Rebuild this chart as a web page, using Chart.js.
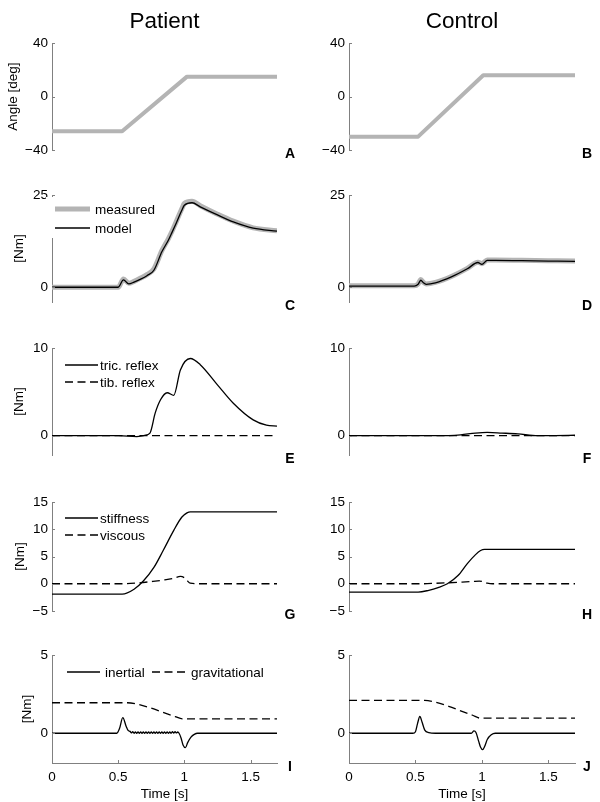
<!DOCTYPE html>
<html>
<head>
<meta charset="utf-8">
<script src="https://cdn.jsdelivr.net/npm/chart.js@4.4.1/dist/chart.umd.min.js"></script>
<style>
  body { margin: 0; background: #fff; }
  #wrap { position: relative; width: 600px; height: 802px; }
  #wrap canvas { position: absolute; }
</style>
</head>
<body>
<div id="wrap"></div>
<script>
// --- data (time in s) ---
var timeTicks = [0, 0.5, 1, 1.5];
var colTitles = ["Patient", "Control"];

// A / B : angle [deg]
var tAngleP = [0, 0.53, 1.02, 1.7];
var angleP = [-26, -26, 15, 15];
var tAngleC = [0, 0.52, 1.01, 1.7];
var angleC = [-30, -30, 16, 16];

// C / D : total torque [Nm]
var tTorqueP = [0, 0.5, 0.54, 0.58, 0.62, 0.67, 0.72, 0.77, 0.83, 0.88, 0.906, 0.94, 0.98, 1.0, 1.058, 1.12, 1.25, 1.37, 1.52, 1.7];
var measuredP = [0, 0, 2.2, 1.1, 1.6, 2.5, 3.5, 5.0, 9.9, 13.2, 15.1, 17.9, 21.2, 22.7, 23.3, 22.1, 19.8, 17.9, 16.1, 15.3];
var modelP = [0, 0, 2.0, 0.9, 1.4, 2.2, 3.2, 4.6, 9.6, 12.8, 14.8, 17.5, 20.8, 22.2, 22.9, 21.8, 19.6, 17.7, 16.0, 15.2];
var tTorqueC = [0, 0.49, 0.52, 0.54, 0.56, 0.58, 0.65, 0.77, 0.89, 0.97, 1.0, 1.04, 1.1, 1.3, 1.5, 1.7];
var measuredC = [0.4, 0.4, 0.9, 2.1, 1.3, 0.9, 1.3, 2.9, 5.1, 6.8, 6.4, 7.4, 7.4, 7.3, 7.2, 7.1];
var modelC = [0.3, 0.3, 0.8, 1.9, 1.2, 0.8, 1.2, 2.8, 5.0, 6.7, 6.2, 7.3, 7.3, 7.2, 7.1, 7.0];

// E / F : reflex torque [Nm]
var tReflexP = [0, 0.3, 0.5, 0.64, 0.7, 0.74, 0.78, 0.82, 0.87, 0.92, 0.97, 1.045, 1.12, 1.25, 1.37, 1.52, 1.62, 1.7];
var tricP = [0, 0, 0, -0.1, 0.05, 0.3, 2.6, 4.1, 4.9, 4.6, 7.5, 8.8, 8.1, 5.8, 3.7, 1.8, 1.2, 1.1];
var tReflexC = [0, 0.6, 0.75, 0.84, 0.95, 1.04, 1.15, 1.27, 1.42, 1.55, 1.7];
var tricC = [0, 0, 0.02, 0.1, 0.3, 0.38, 0.3, 0.2, 0, 0.02, 0.05];
var tTib = [0, 1.7];
var tibP = [0, 0];
var tibC = [0, 0];

// G / H : stiffness and viscous torque [Nm]
var tStiffP = [0, 0.53, 0.62, 0.69, 0.77, 0.84, 0.92, 0.98, 1.02, 1.045, 1.1, 1.7];
var stiffP = [-1.9, -1.9, -1.0, 0.5, 3.0, 6.1, 9.8, 12.2, 13.0, 13.2, 13.2, 13.2];
var tViscP = [0, 0.55, 0.65, 0.75, 0.85, 0.92, 0.97, 1.0, 1.02, 1.045, 1.1, 1.7];
var viscP = [0, 0, 0.15, 0.4, 0.7, 1.0, 1.35, 1.1, 0.6, 0.1, 0, 0];
var tStiffC = [0, 0.52, 0.6, 0.67, 0.74, 0.82, 0.89, 0.95, 0.99, 1.02, 1.04, 1.7];
var stiffC = [-1.55, -1.55, -1.2, -0.7, 0, 1.5, 3.7, 5.3, 6.1, 6.3, 6.3, 6.3];
var tViscC = [0, 0.55, 0.65, 0.75, 0.85, 0.93, 0.98, 1.01, 1.04, 1.08, 1.7];
var viscC = [0, 0, 0.08, 0.18, 0.3, 0.42, 0.5, 0.35, 0.12, 0, 0];

// I / J : inertial and gravitational torque [Nm]
var tInertP = [0, 0.49, 0.51, 0.535, 0.56, 0.575,
  0.59, 0.60, 0.61, 0.62, 0.63, 0.64, 0.65, 0.66, 0.67, 0.68, 0.69, 0.70, 0.71, 0.72, 0.73, 0.74, 0.75, 0.76, 0.77,
  0.78, 0.79, 0.80, 0.81, 0.82, 0.83, 0.84, 0.85, 0.86, 0.87, 0.88, 0.89, 0.90, 0.91, 0.92, 0.93, 0.94, 0.95,
  0.96, 0.975, 0.99, 1.008, 1.025, 1.05, 1.075, 1.1, 1.7];
var inertP = [0, 0, 0.3, 1.0, 0.45, 0.18,
  0.12, 0.02, 0.1, 0, 0.09, -0.01, 0.09, 0, 0.08, -0.01, 0.09, 0, 0.08, -0.01, 0.09, 0, 0.08, 0, 0.09,
  -0.01, 0.08, 0, 0.09, 0, 0.08, -0.01, 0.09, 0, 0.08, 0, 0.09, 0, 0.1, 0.01, 0.1, 0.02, 0.08,
  0, -0.3, -0.75, -0.92, -0.6, -0.25, -0.07, 0, 0];
var tGravP = [0, 0.57, 0.65, 0.75, 0.85, 0.93, 0.985, 1.7];
var gravP = [1.95, 1.95, 1.85, 1.6, 1.3, 1.07, 0.92, 0.92];
var tInertC = [0, 0.48, 0.5, 0.515, 0.533, 0.55, 0.57, 0.6, 0.65, 0.92, 0.94, 0.955, 0.975, 0.99, 1.005, 1.02, 1.04, 1.07, 1.1, 1.7];
var inertC = [0, 0, 0.1, 0.6, 1.07, 0.7, 0.2, 0.04, 0, 0, 0.15, 0.05, -0.5, -0.9, -1.05, -0.85, -0.4, -0.1, 0, 0];
var tGravC = [0, 0.57, 0.65, 0.75, 0.85, 0.93, 0.985, 1.7];
var gravC = [2.1, 2.1, 1.98, 1.72, 1.4, 1.15, 0.97, 0.97];

// --- styling ---
var axisColor = "#808080";
var gray = "#b4b4b4";
var dash = [8, 4.5];

Chart.defaults.font.family = '"Liberation Sans", Arial, sans-serif';
Chart.defaults.font.size = 13.5;
Chart.defaults.color = "#000";

function pts(t, v) {
  return t.map(function (x, i) { return { x: x, y: v[i] }; });
}
function fmt(v) {
  return String(v).replace("-", "\u2212");
}
function solid(label, t, v) {
  return { label: label, data: pts(t, v), borderColor: "#000", borderWidth: 1.3,
    pointRadius: 0, cubicInterpolationMode: "monotone", fill: false };
}
function dashed(label, t, v) {
  var d = solid(label, t, v);
  d.borderDash = dash;
  return d;
}
function thick(label, t, v) {
  var d = solid(label, t, v);
  d.borderColor = gray;
  d.borderWidth = 5;
  return d;
}
function angleLine(t, v) {
  return { label: "angle", data: pts(t, v), borderColor: gray, borderWidth: 4,
    pointRadius: 0, tension: 0, borderJoinStyle: "round", borderCapStyle: "butt", fill: false };
}

// legend drawn inside the plot area
var panelLegend = {
  id: "panelLegend",
  afterDraw: function (chart, args, opts) {
    if (!opts || !opts.items) return;
    var ctx = chart.ctx, a = chart.chartArea;
    ctx.save();
    if (opts.bg) {
      ctx.fillStyle = "#fff";
      ctx.fillRect(a.left + opts.bg[0], a.top + opts.bg[1], opts.bg[2], opts.bg[3]);
    }
    ctx.font = '13.5px "Liberation Sans", Arial, sans-serif';
    ctx.textBaseline = "middle";
    ctx.textAlign = "left";
    for (var k = 0; k < opts.items.length; k++) {
      var it = opts.items[k];
      var ds = chart.data.datasets[it.i];
      var x = a.left + it.x, y = a.top + it.y;
      ctx.strokeStyle = ds.borderColor;
      ctx.lineWidth = ds.borderWidth;
      ctx.setLineDash(ds.borderDash || []);
      ctx.beginPath();
      ctx.moveTo(x, y);
      ctx.lineTo(x + it.w, y);
      ctx.stroke();
      ctx.setLineDash([]);
      ctx.fillStyle = "#000";
      ctx.fillText(ds.label, x + it.w + it.gap, y + 1);
    }
    ctx.restore();
  }
};

// small inward tick marks, placed by the chart's own scales
var innerTicks = {
  id: "innerTicks",
  afterDraw: function (chart) {
    var ctx = chart.ctx, a = chart.chartArea;
    var xs = chart.scales.x, ys = chart.scales.y;
    ctx.save();
    ctx.strokeStyle = axisColor;
    ctx.lineWidth = 1;
    ctx.beginPath();
    ys.ticks.forEach(function (t) {
      var py = Math.round(ys.getPixelForValue(t.value)) + 0.5;
      ctx.moveTo(a.left, py);
      ctx.lineTo(a.left + 3, py);
    });
    if (xs.options.display) {
      xs.ticks.forEach(function (t) {
        var px = Math.round(xs.getPixelForValue(t.value)) + 0.5;
        ctx.moveTo(px, a.bottom);
        ctx.lineTo(px, a.bottom - 3);
      });
    }
    ctx.stroke();
    ctx.restore();
  }
};

// bold panel letter at lower right
var panelTag = {
  id: "panelTag",
  afterDraw: function (chart, args, opts) {
    if (!opts || !opts.text) return;
    var ctx = chart.ctx, a = chart.chartArea;
    ctx.save();
    ctx.font = 'bold 14px "Liberation Sans", Arial, sans-serif';
    ctx.fillStyle = "#000";
    ctx.textAlign = "center";
    ctx.textBaseline = "middle";
    ctx.fillText(opts.text, a.right + opts.dx, a.bottom + opts.dy);
    ctx.restore();
  }
};
Chart.register(panelLegend, innerTicks, panelTag);

var wrap = document.getElementById("wrap");
var cols = [
  { left: 0, axisW: 52, padR: 23, tagDx: 13 },
  { left: 300, axisW: 49, padR: 25, tagDx: 12 }
];
var rows = [
  { top: 0, height: 160, padT: 0, padB: 10 },
  { top: 180, height: 132, padT: 15, padB: 10 },
  { top: 333, height: 132, padT: 15, padB: 10 },
  { top: 487, height: 134, padT: 15, padB: 10 },
  { top: 640, height: 162, padT: 15, padB: 0 }
];

function panel(row, col, o) {
  var r = rows[row], c = cols[col];
  var cv = document.createElement("canvas");
  cv.width = 300;
  cv.height = r.height;
  cv.style.left = c.left + "px";
  cv.style.top = r.top + "px";
  wrap.appendChild(cv);
  var bottom = row === 4;

  new Chart(cv, {
    type: "line",
    data: { datasets: o.datasets },
    options: {
      responsive: false,
      animation: false,
      events: [],
      layout: { padding: { left: 0, right: c.padR, top: r.padT, bottom: r.padB } },
      scales: {
        x: {
          type: "linear", min: 0, max: 1.7, display: bottom,
          grid: { display: false, drawTicks: false },
          border: { color: axisColor },
          afterBuildTicks: function (s) { s.ticks = timeTicks.map(function (v) { return { value: v }; }); },
          afterFit: function (s) {
            s.height = bottom ? 39 : 0;
            s.paddingLeft = 0;
            s.paddingRight = 0;
          },
          ticks: { padding: 6, maxRotation: 0, autoSkip: false, callback: function (v) { return fmt(v); } },
          title: { display: true, text: "Time [s]", padding: { top: 2, bottom: 0 } }
        },
        y: {
          type: "linear", min: o.yMin, max: o.yMax,
          grid: { display: false, drawTicks: false },
          border: { color: axisColor },
          afterBuildTicks: function (s) { s.ticks = o.yTicks.map(function (v) { return { value: v }; }); },
          afterFit: function (s) { s.width = c.axisW; s.paddingTop = 0; s.paddingBottom = 0; },
          ticks: { padding: 4, autoSkip: false, callback: function (v) { return fmt(v); } },
          title: { display: col === 0, text: o.yTitle, padding: { top: o.titlePad || 0, bottom: 0 } }
        }
      },
      plugins: {
        legend: { display: false },
        tooltip: { enabled: false },
        title: {
          display: row === 0, text: colTitles[col], fullSize: false, color: "#000",
          font: { size: 22.5, weight: "normal" }, padding: { top: 8, bottom: 8.3 }
        },
        panelLegend: o.legend || {},
        panelTag: { text: o.tag, dx: c.tagDx, dy: 4 }
      }
    }
  });
}

// A, B
panel(0, 0, { tag: "A", yMin: -40, yMax: 40, yTicks: [-40, 0, 40], yTitle: "Angle [deg]", titlePad: 5,
  datasets: [angleLine(tAngleP, angleP)] });
panel(0, 1, { tag: "B", yMin: -40, yMax: 40, yTicks: [-40, 0, 40],
  datasets: [angleLine(tAngleC, angleC)] });

// C, D
var mP = thick("measured", tTorqueP, measuredP); mP.order = 1;
var moP = solid("model", tTorqueP, modelP); moP.order = 0;
var mC = thick("measured", tTorqueC, measuredC); mC.order = 1;
var moC = solid("model", tTorqueC, modelC); moC.order = 0;
panel(1, 0, { tag: "C", yMin: -4, yMax: 25, yTicks: [0, 25], yTitle: "[Nm]", titlePad: 11,
  datasets: [mP, moP],
  legend: { bg: [-6, 2, 112, 41], items: [{ i: 0, x: 3, y: 14, w: 35, gap: 5 }, { i: 1, x: 3, y: 33, w: 35, gap: 5 }] } });
panel(1, 1, { tag: "D", yMin: -4, yMax: 25, yTicks: [0, 25], datasets: [mC, moC] });

// E, F
panel(2, 0, { tag: "E", yMin: -2.2, yMax: 10, yTicks: [0, 10], yTitle: "[Nm]", titlePad: 11,
  datasets: [solid("tric. reflex", tReflexP, tricP), dashed("tib. reflex", tTib, tibP)],
  legend: { items: [{ i: 0, x: 13, y: 17, w: 33, gap: 2 }, { i: 1, x: 13, y: 34, w: 33, gap: 2 }] } });
panel(2, 1, { tag: "F", yMin: -2.2, yMax: 10, yTicks: [0, 10],
  datasets: [solid("tric. reflex", tReflexC, tricC), dashed("tib. reflex", tTib, tibC)] });

// G, H
panel(3, 0, { tag: "G", yMin: -5, yMax: 15, yTicks: [-5, 0, 5, 10, 15], yTitle: "[Nm]", titlePad: 12,
  datasets: [solid("stiffness", tStiffP, stiffP), dashed("viscous", tViscP, viscP)],
  legend: { items: [{ i: 0, x: 13, y: 16, w: 33, gap: 2 }, { i: 1, x: 13, y: 33, w: 33, gap: 2 }] } });
panel(3, 1, { tag: "H", yMin: -5, yMax: 15, yTicks: [-5, 0, 5, 10, 15],
  datasets: [solid("stiffness", tStiffC, stiffC), dashed("viscous", tViscC, viscC)] });

// I, J
panel(4, 0, { tag: "I", yMin: -1.9, yMax: 5, yTicks: [0, 5], yTitle: "[Nm]", titlePad: 19,
  datasets: [solid("inertial", tInertP, inertP), dashed("gravitational", tGravP, gravP)],
  legend: { items: [{ i: 0, x: 15, y: 17, w: 33, gap: 5 }, { i: 1, x: 100, y: 17, w: 36, gap: 3 }] } });
panel(4, 1, { tag: "J", yMin: -1.9, yMax: 5, yTicks: [0, 5],
  datasets: [solid("inertial", tInertC, inertC), dashed("gravitational", tGravC, gravC)] });
</script>
</body>
</html>
